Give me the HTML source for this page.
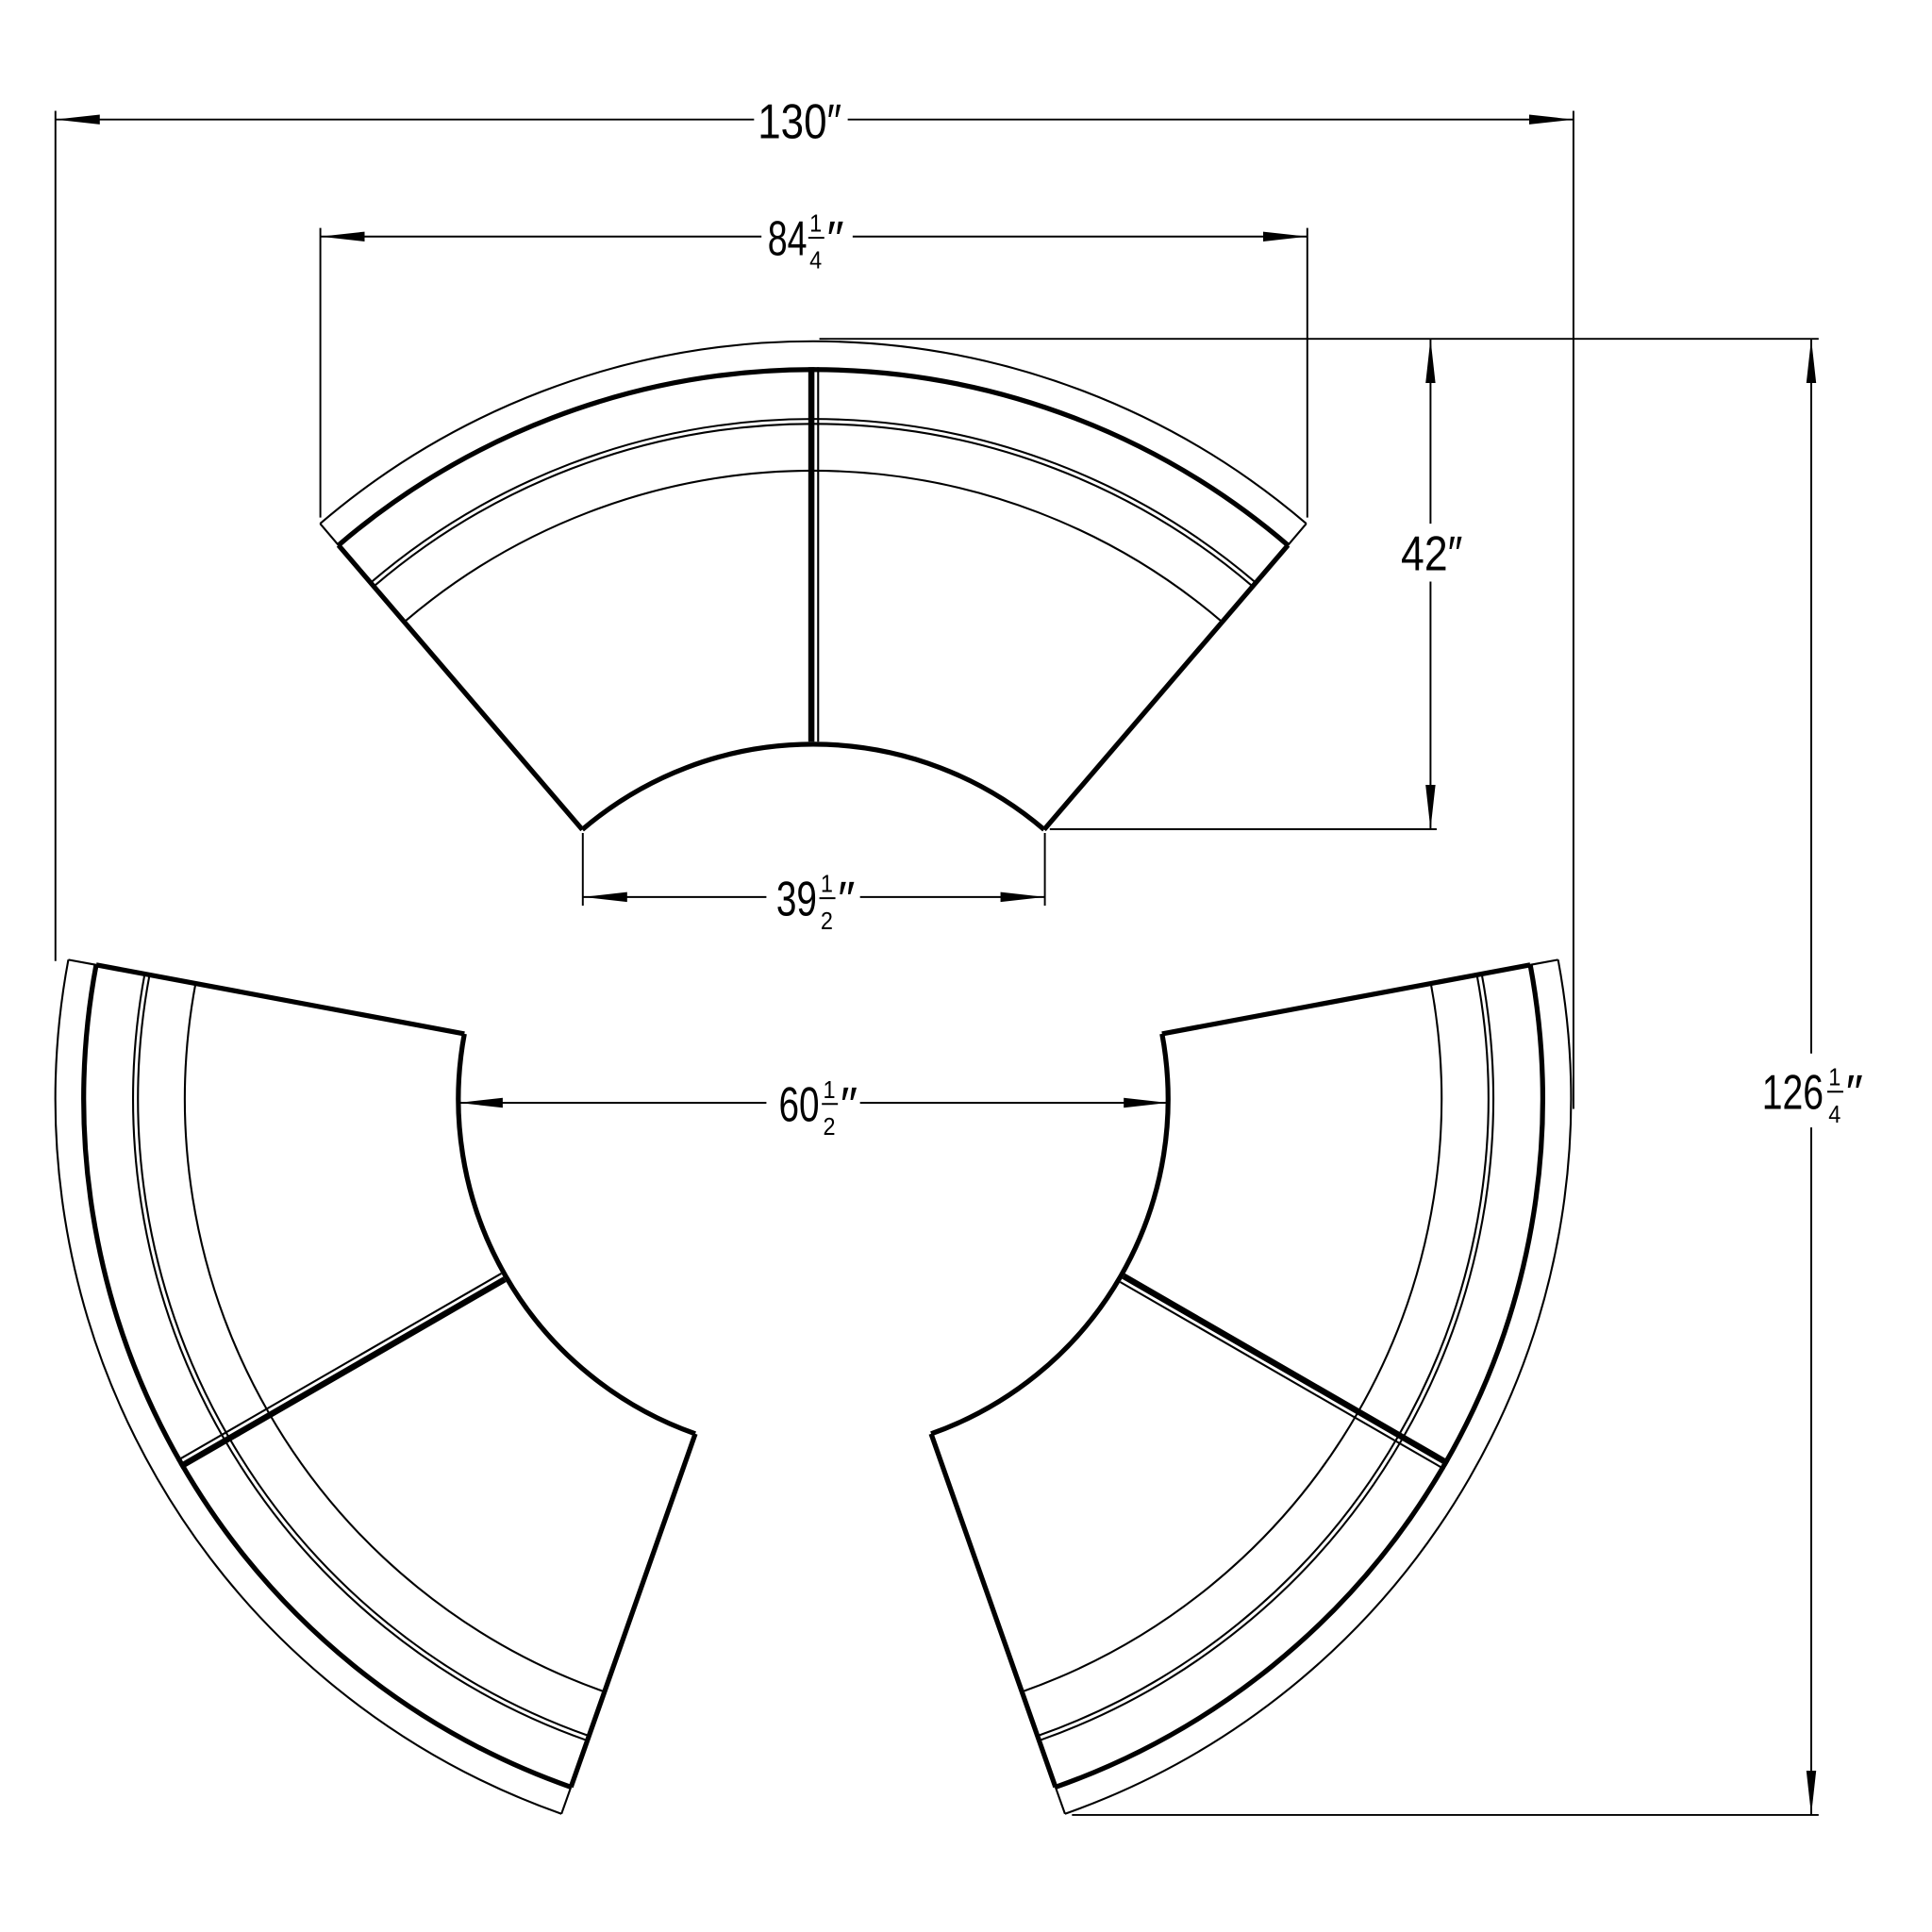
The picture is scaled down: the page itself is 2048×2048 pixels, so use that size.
<!DOCTYPE html>
<html><head><meta charset="utf-8"><style>
html,body{margin:0;padding:0;background:#fff}
svg{display:block}
text{font-family:"Liberation Sans Narrow","Liberation Sans",sans-serif;fill:#000}
</style></head><body>
<svg width="2048" height="2048" viewBox="0 0 1568 1568" xmlns="http://www.w3.org/2000/svg">
<defs>
<marker id="a" viewBox="0 0 36 10" refX="36" refY="5" markerWidth="36" markerHeight="10" markerUnits="userSpaceOnUse" orient="auto-start-reverse">
<path d="M0,1 L36,5 L0,9 Z" fill="#000"/>
</marker>
<g id="sofa" fill="none" stroke="#000">
<path d="M-400.2,-467 A615 615 0 0 1 400.2,-467" stroke-width="1.6"/>
<path d="M-385.3,-449.5 A592 592 0 0 1 385.3,-449.5" stroke-width="4"/>
<path d="M-359.2,-419.1 A552 552 0 0 1 359.2,-419.1" stroke-width="1.6"/>
<path d="M-356.6,-416.1 A548 548 0 0 1 356.6,-416.1" stroke-width="1.6"/>
<path d="M-331.9,-387.2 A510 510 0 0 1 331.9,-387.2" stroke-width="1.6"/>
<path d="M-187.4,-218.7 A288 288 0 0 1 187.4,-218.7" stroke-width="4"/>
<path d="M-400.2,-467 L-385.3,-449.5" stroke-width="1.6"/>
<path d="M400.2,-467 L385.3,-449.5" stroke-width="1.6"/>
<path d="M-385.3,-449.5 L-187.4,-218.7" stroke-width="4"/>
<path d="M385.3,-449.5 L187.4,-218.7" stroke-width="4"/>
<path d="M-1.5,-290 L-1.5,-594" stroke-width="5"/>
<path d="M4,-290 L4,-594" stroke-width="1.6"/>
</g>
</defs>
<use href="#sofa" transform="translate(660,892)"/>
<use href="#sofa" transform="translate(660,892) rotate(-120)"/>
<use href="#sofa" transform="translate(660,892) rotate(120)"/>

<g stroke="#000" stroke-width="1.5" fill="none">
<line x1="45" y1="90" x2="45" y2="780"/>
<line x1="1277" y1="90" x2="1277" y2="900"/>
<line x1="45" y1="97" x2="612" y2="97" marker-start="url(#a)"/>
<line x1="688" y1="97" x2="1277" y2="97" marker-end="url(#a)"/>
<line x1="260" y1="185" x2="260" y2="420"/>
<line x1="1061" y1="185" x2="1061" y2="420"/>
<line x1="260" y1="192" x2="618" y2="192" marker-start="url(#a)"/>
<line x1="692" y1="192" x2="1061" y2="192" marker-end="url(#a)"/>
<line x1="665" y1="275" x2="1476" y2="275"/>
<line x1="852" y1="673" x2="1166" y2="673"/>
<line x1="1161" y1="275" x2="1161" y2="425" marker-start="url(#a)"/>
<line x1="1161" y1="472" x2="1161" y2="673" marker-end="url(#a)"/>
<line x1="870" y1="1473" x2="1476" y2="1473"/>
<line x1="1470" y1="275" x2="1470" y2="855" marker-start="url(#a)"/>
<line x1="1470" y1="915" x2="1470" y2="1473" marker-end="url(#a)"/>
<line x1="473" y1="676" x2="473" y2="735"/>
<line x1="848" y1="676" x2="848" y2="735"/>
<line x1="473" y1="728" x2="622" y2="728" marker-start="url(#a)"/>
<line x1="698" y1="728" x2="848" y2="728" marker-end="url(#a)"/>
<line x1="372" y1="895" x2="622" y2="895" marker-start="url(#a)"/>
<line x1="698" y1="895" x2="948" y2="895" marker-end="url(#a)"/>
</g>

<g font-size="40">
<text x="615" y="112" textLength="68" lengthAdjust="spacingAndGlyphs">130″</text>
<text x="623" y="207" textLength="32" lengthAdjust="spacingAndGlyphs">84</text><text x="657" y="188" font-size="20" textLength="10" lengthAdjust="spacingAndGlyphs">1</text><line x1="656" y1="193" x2="669" y2="193" stroke="#000" stroke-width="1.5"/><text x="657" y="218" font-size="20" textLength="10" lengthAdjust="spacingAndGlyphs">4</text><text x="671" y="207" textLength="14" lengthAdjust="spacingAndGlyphs">″</text>
<text x="1137" y="463" textLength="50" lengthAdjust="spacingAndGlyphs">42″</text>
<text x="1430" y="900" textLength="50" lengthAdjust="spacingAndGlyphs">126</text><text x="1484" y="881" font-size="20" textLength="10" lengthAdjust="spacingAndGlyphs">1</text><line x1="1483" y1="886" x2="1496" y2="886" stroke="#000" stroke-width="1.5"/><text x="1484" y="911" font-size="20" textLength="10" lengthAdjust="spacingAndGlyphs">4</text><text x="1498" y="900" textLength="14" lengthAdjust="spacingAndGlyphs">″</text>
<text x="630" y="743" textLength="33" lengthAdjust="spacingAndGlyphs">39</text><text x="666" y="724" font-size="20" textLength="10" lengthAdjust="spacingAndGlyphs">1</text><line x1="665" y1="729" x2="678" y2="729" stroke="#000" stroke-width="1.5"/><text x="666" y="754" font-size="20" textLength="10" lengthAdjust="spacingAndGlyphs">2</text><text x="680" y="743" textLength="14" lengthAdjust="spacingAndGlyphs">″</text>
<text x="632" y="910" textLength="33" lengthAdjust="spacingAndGlyphs">60</text><text x="668" y="891" font-size="20" textLength="10" lengthAdjust="spacingAndGlyphs">1</text><line x1="667" y1="896" x2="680" y2="896" stroke="#000" stroke-width="1.5"/><text x="668" y="921" font-size="20" textLength="10" lengthAdjust="spacingAndGlyphs">2</text><text x="682" y="910" textLength="14" lengthAdjust="spacingAndGlyphs">″</text>
</g>
</svg>
</body></html>
